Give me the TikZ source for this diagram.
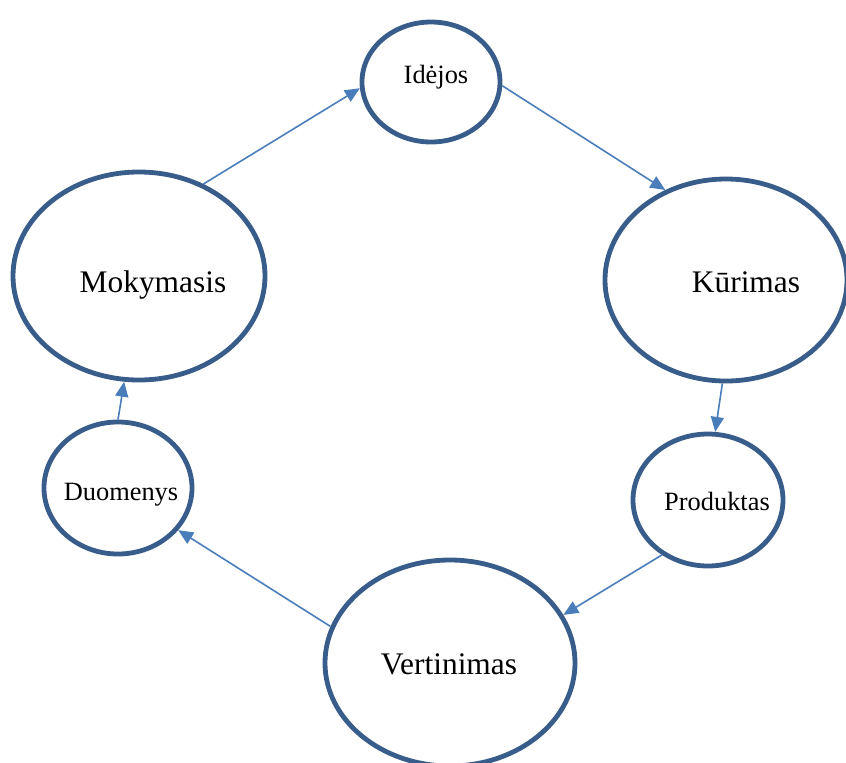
\documentclass[tikz,border=0pt]{standalone}
\usepackage{fontspec}
\setmainfont{Liberation Serif}
\usepackage{xcolor}
\definecolor{ringblue}{HTML}{385D8A}
\definecolor{arrowblue}{HTML}{4A7EBB}
\usetikzlibrary{shapes.geometric,arrows.meta}

\begin{document}
\begin{tikzpicture}[
        x=0.5pt, y=-0.5pt,
        stage/.style={ellipse, draw=ringblue, line width=2.4pt, inner sep=0pt, fill=white},
        small/.style={font=\fontsize{13.2}{15}\selectfont},
        big/.style={font=\fontsize{15.7}{18}\selectfont},
        arrow/.style={-{Triangle[length=7.5pt,width=6.5pt]}, draw=arrowblue, line width=0.8pt}
    ]
        \useasboundingbox (0,0) rectangle (846,762);

        \node[stage, minimum width=69pt, minimum height=60pt,
              label={[small, shift={(5,-5)}]center:Idėjos}] (idejos) at (431,82) {};
        \node[stage, minimum width=121pt, minimum height=101pt,
              label={[big, shift={(20,2)}]center:Kūrimas}] (kurimas) at (726,280) {};
        \node[stage, minimum width=75pt, minimum height=66pt,
              label={[small, shift={(9,1)}]center:Produktas}] (produktas) at (708,500) {};
        \node[stage, minimum width=125pt, minimum height=103pt,
              label={[big, shift={(-1,1)}]center:Vertinimas}] (vertinimas) at (450,663) {};
        \node[stage, minimum width=74pt, minimum height=66pt,
              label={[small, shift={(3,7)}]center:Duomenys}] (duomenys) at (118,488) {};
        \node[stage, minimum width=126pt, minimum height=104pt,
              label={[big, shift={(14,9)}]center:Mokymasis}] (mokymasis) at (139,276) {};

        \draw[arrow] (mokymasis.55) -- (idejos.185);
        \draw[arrow] (idejos.-3) -- (kurimas.124);
        \draw[arrow] (kurimas.-92) -- (produktas.84);
        \draw[arrow] (produktas.-130) -- (vertinimas.23);
        \draw[arrow] (vertinimas.163) -- (duomenys.-35);
        \draw[arrow] (duomenys.90) -- (mokymasis.-98);
    \end{tikzpicture}
\end{document}
